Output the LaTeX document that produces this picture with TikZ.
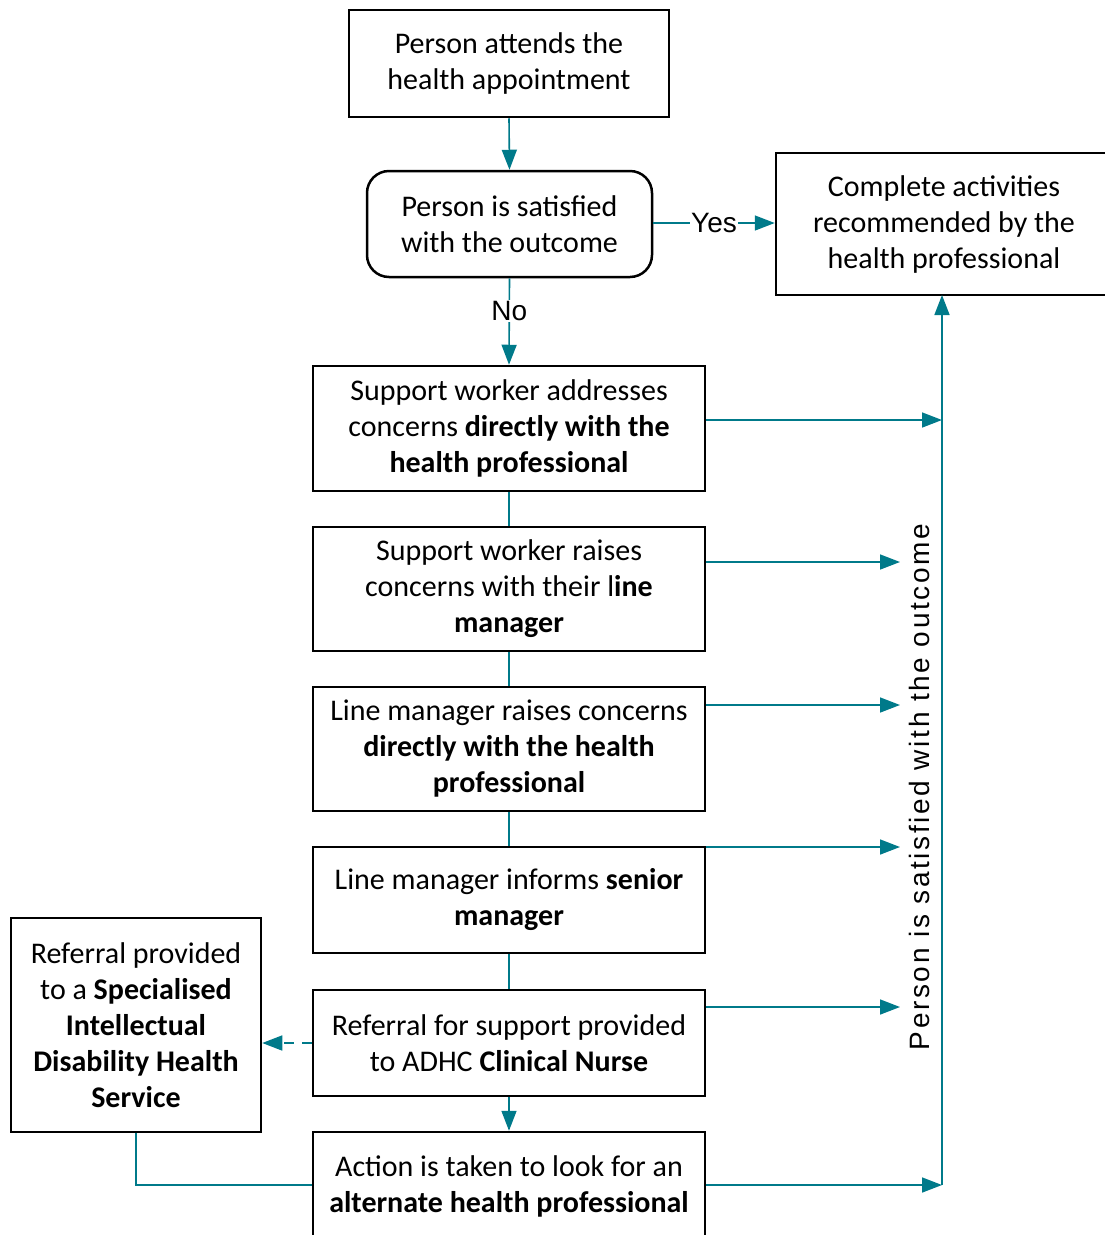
\documentclass[tikz,border=0pt]{standalone}
\usepackage{fontspec}
\setmainfont{Carlito}
\newfontfamily\arialf{Liberation Sans}
\usetikzlibrary{arrows.meta,calc}
\definecolor{teal1}{RGB}{0,122,138}
\tikzset{
  box/.style={draw=black,line width=2.5pt,inner sep=0pt,align=center,font=\fontsize{30}{36}\selectfont},
  conn/.style={draw=teal1,line width=1.6pt},
  arr/.style={conn,-{Triangle[length=20pt,width=15pt]}},
  lbl/.style={font=\arialf\fontsize{28}{30}\selectfont,fill=white,inner sep=1pt}
}
\begin{document}
\begin{tikzpicture}[x=1pt,y=-1pt]
\useasboundingbox (0,0) rectangle (1104,1235);
\node[box,minimum width=320pt,minimum height=107pt] (b1) at (509,63.5) {Person attends the\\health appointment};
\node[box,rounded corners=22pt,minimum width=285pt,minimum height=106pt] (b2) at (509.5,224) {Person is satisfied\\with the outcome};
\node[box,minimum width=336pt,minimum height=142pt] (b3) at (944,224) {Complete activities\\recommended by the\\health professional};
\node[box,minimum width=392pt,minimum height=125pt] (b4) at (509,428.5) {Support worker addresses\\concerns \textbf{directly with the}\\\textbf{health professional}};
\node[box,minimum width=392pt,minimum height=124pt] (b5) at (509,589) {Support worker raises\\concerns with their l\textbf{ine}\\\textbf{manager}};
\node[box,minimum width=392pt,minimum height=124pt] (b6) at (509,749) {Line manager raises concerns\\\textbf{directly with the health}\\\textbf{professional}};
\node[box,minimum width=392pt,minimum height=106pt] (b7) at (509,900) {Line manager informs \textbf{senior}\\\textbf{manager}};
\node[box,minimum width=392pt,minimum height=106pt] (b8) at (509,1043) {Referral for support provided\\to ADHC \textbf{Clinical Nurse}};
\node[box,minimum width=392pt,minimum height=108pt] (b9) at (509,1186) {Action is taken to look for an\\\textbf{alternate health professional}};
\node[box,minimum width=250pt,minimum height=214pt] (bl) at (136,1025) {Referral provided\\to a \textbf{Specialised}\\\textbf{Intellectual}\\\textbf{Disability Health}\\\textbf{Service}};
% connectors
\draw[arr] (b1.south) -- (b2.north);
\draw[arr] (b2.east |- 0,223) -- node[lbl,pos=0.5]{Yes} (b3.west |- 0,223);
\draw[arr] (b2.south) -- node[lbl,pos=0.38]{No} (b4.north);
\draw[conn] (b4.south) -- (b5.north);
\draw[conn] (b5.south) -- (b6.north);
\draw[conn] (b6.south) -- (b7.north);
\draw[conn] (b7.south) -- (b8.north);
\draw[arr] (b8.south) -- (b9.north);
\draw[arr,dashed,dash pattern=on 10pt off 8pt] (b8.west) -- (bl.east |- b8.west);
\draw[conn] (bl.south) |- (b9.west |- 0,1185);
\coordinate (vb) at (942,1185);
\coordinate (vt) at (942,295);
\draw[arr] (vb) -- (vt);
\coordinate (e4) at (942,420);
\coordinate (e5) at (900,562);
\coordinate (e6) at (900,705);
\coordinate (e7) at (900,847);
\coordinate (e8) at (900,1007);
\draw[arr] (b4.east |- e4) -- (e4);
\draw[arr] (b5.east |- e5) -- (e5);
\draw[arr] (b6.east |- e6) -- (e6);
\draw[arr] (b7.east |- e7) -- (e7);
\draw[arr] (b8.east |- e8) -- (e8);
\draw[arr] (b9.east |- vb) -- (vb);
\node[rotate=90,font=\arialf\fontsize{28}{30}\selectfont,inner sep=0pt] (rt) at (919,787) {\addfontfeature{LetterSpace=9.5}Person is satisfied with the outcome};
\end{tikzpicture}
\end{document}
